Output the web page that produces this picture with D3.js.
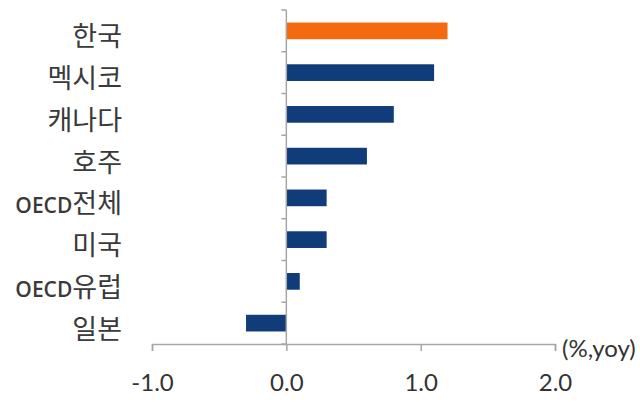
<!DOCTYPE html>
<html><head><meta charset="utf-8">
<script src="https://cdn.jsdelivr.net/npm/d3@7"></script>
<style>body{margin:0;background:#fff}svg{display:block}</style>
</head><body><svg id="c" width="640" height="404"></svg>
<script>
const categories = ["한국","멕시코","캐나다","호주","OECD전체","미국","OECD유럽","일본"];
const values = [1.2, 1.1, 0.8, 0.6, 0.3, 0.3, 0.1, -0.3];
const highlight = ["한국"];
const xTicks = [-1.0, 0.0, 1.0, 2.0];
const unitLabel = "(%,yoy)";

const svg = d3.select("#c");
const x = d3.scaleLinear().domain([-1, 2]).range([152, 555]);
const y = d3.scaleBand().domain(categories).range([10, 344]).paddingInner(0.6).paddingOuter(0.3);
const yTick = d3.scaleBand().domain(categories).range([10, 344]);
const axisColor = "#a6a6a6";

// bars
svg.selectAll("rect.bar").data(categories).join("rect")
  .attr("x", (d,i) => x(Math.min(0, values[i])))
  .attr("width", (d,i) => Math.abs(x(values[i]) - x(0)))
  .attr("y", d => y(d))
  .attr("height", y.bandwidth())
  .attr("fill", d => highlight.includes(d) ? "#f36a10" : "#113c7a");

// vertical zero axis with category ticks
svg.append("line").attr("x1", x(0)).attr("x2", x(0)).attr("y1", 10).attr("y2", 344)
  .attr("stroke", axisColor).attr("stroke-width", 1.5);
const bounds = categories.map(c => yTick(c)).concat([344]);
svg.selectAll("line.yt").data(bounds).join("line")
  .attr("x1", x(0) - 5).attr("x2", x(0)).attr("y1", d => d).attr("y2", d => d)
  .attr("stroke", axisColor).attr("stroke-width", 1.5);

// x axis
const xAxis = d3.axisBottom(x).tickValues(xTicks)
  .tickFormat(d => d3.format(".1f")(d).replace("\u2212", "-")).tickSize(7).tickPadding(23);
const gx = svg.append("g").attr("transform", "translate(0,344)").call(xAxis);
gx.select(".domain").attr("stroke", axisColor).attr("stroke-width", 1.5);
gx.selectAll(".tick line").attr("stroke", axisColor).attr("stroke-width", 1.5);
gx.selectAll(".tick text").attr("fill", "#333").attr("font-size", 24)
  .attr("font-family", "Lato, 'Open Sans', sans-serif");

svg.append("text").attr("x", x(2) + 7).attr("y", 349).attr("dy", "0.35em")
  .attr("font-size", 24).attr("fill", "#333").attr("font-family", "Lato, 'Open Sans', sans-serif")
  .text(unitLabel);

// category labels
const lbl = svg.selectAll("text.cat").data(categories).join("text")
  .attr("x", 122).attr("y", d => yTick(d) + yTick.bandwidth()/2 + 6)
  .attr("dy", "0.35em").attr("text-anchor", "end").attr("fill", "#3a3a3a")
  .attr("font-family", "'Noto Sans CJK KR', sans-serif").attr("font-size", 27);
lbl.each(function(d) {
  const t = d3.select(this);
  const m = d.match(/^([A-Za-z]+)(.*)$/);
  if (m) {
    t.append("tspan").attr("font-size", 21).attr("font-weight", 600).attr("font-family", "'Open Sans', sans-serif").text(m[1]);
    t.append("tspan").text(m[2]);
  } else {
    t.text(d);
  }
});
</script></body></html>
